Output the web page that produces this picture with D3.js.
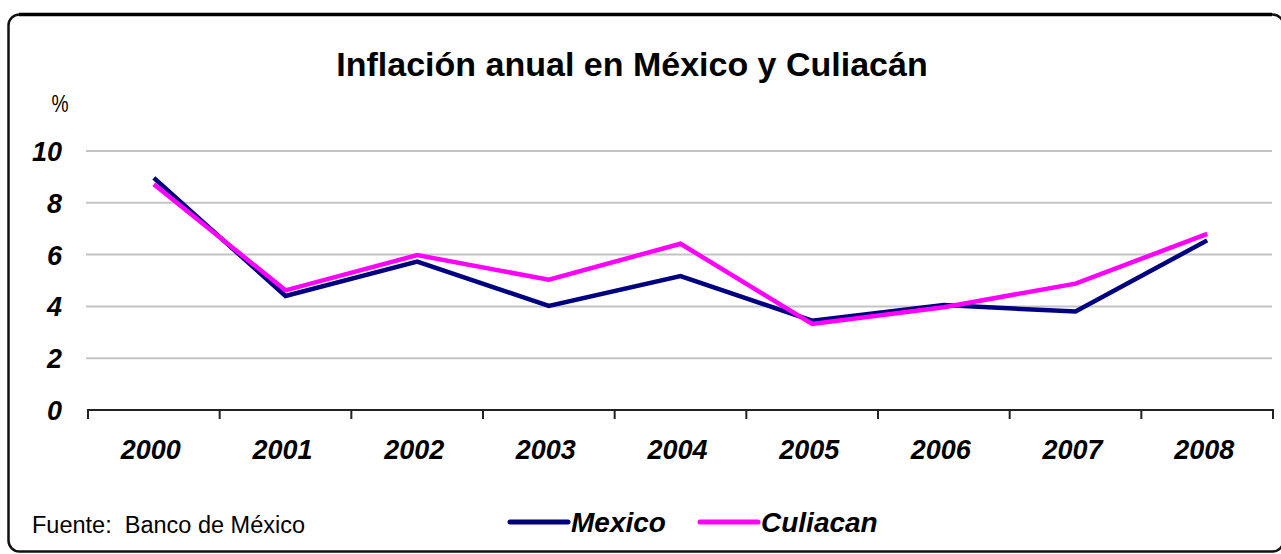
<!DOCTYPE html>
<html>
  <head>
    <script src="https://d3js.org/d3.v7.min.js"></script>
    <meta charset="utf-8">
    <style>
    body {
      margin: 0;
      background: #fff;
    }

    svg text {
      font-family: "Liberation Sans", Arial, sans-serif;
    }

    .tick-label {
      font-size: 27px;
      font-weight: bold;
      font-style: italic;
    }
  </style>
  </head>
  <body>
    <div id="chart"></div>
    <script>
    var years = ['2000', '2001', '2002', '2003', '2004', '2005', '2006', '2007', '2008'];
    var mexico = [8.96, 4.40, 5.73, 4.02, 5.17, 3.45, 4.05, 3.80, 6.55];
    var culiacan = [8.72, 4.62, 5.98, 5.03, 6.42, 3.32, 3.97, 4.88, 6.80];
    var yTicks = [0, 2, 4, 6, 8, 10];

    var width = 1281, height = 554;
    var svg = d3.select('#chart').append('svg')
      .attr('width', width)
      .attr('height', height);

    // rounded outer frame, cut off at right and bottom like the picture
    svg.append('rect')
      .attr('x', 8.5)
      .attr('y', 14.5)
      .attr('width', 1275)
      .attr('height', 537)
      .attr('rx', 11)
      .attr('fill', 'none')
      .attr('stroke', '#111')
      .attr('stroke-width', 2.5);
    // top edge is heavier in the picture
    svg.append('line')
      .attr('x1', 19)
      .attr('x2', 1272)
      .attr('y1', 14.5)
      .attr('y2', 14.5)
      .attr('stroke', '#000')
      .attr('stroke-width', 3.5);

    var x = d3.scalePoint()
      .domain(years)
      .range([88, 1273])
      .padding(0.5);

    var y = d3.scaleLinear()
      .domain([0, 10])
      .range([410, 151]);

    // gridlines
    svg.append('g')
      .selectAll('line')
      .data(yTicks.filter(function (d) { return d > 0; }))
      .enter().append('line')
        .attr('x1', 86)
        .attr('x2', 1272)
        .attr('y1', function (d) { return y(d); })
        .attr('y2', function (d) { return y(d); })
        .attr('stroke', '#c4c4c4')
        .attr('stroke-width', 2);

    // y labels
    svg.append('g')
      .selectAll('text')
      .data(yTicks)
      .enter().append('text')
        .attr('class', 'tick-label')
        .attr('x', 62)
        .attr('y', function (d) { return y(d) + 10; })
        .attr('text-anchor', 'end')
        .text(function (d) { return d; });

    svg.append('text')
      .attr('x', 60)
      .attr('y', 112)
      .attr('text-anchor', 'middle')
      .attr('font-size', 24)
      .attr('transform', 'translate(60,112) scale(0.8,1) translate(-60,-112)')
      .text('%');

    // x axis with ticks between categories
    var step = x.step();
    var bounds = d3.range(years.length + 1).map(function (i) { return 88 + i * step; });
    svg.append('line')
      .attr('x1', 87)
      .attr('x2', 1274)
      .attr('y1', 410)
      .attr('y2', 410)
      .attr('stroke', '#222')
      .attr('stroke-width', 2);
    svg.append('g')
      .selectAll('line')
      .data(bounds)
      .enter().append('line')
        .attr('x1', function (d) { return d; })
        .attr('x2', function (d) { return d; })
        .attr('y1', 410)
        .attr('y2', 419)
        .attr('stroke', '#222')
        .attr('stroke-width', 2);

    svg.append('g')
      .selectAll('text')
      .data(years)
      .enter().append('text')
        .attr('class', 'tick-label')
        .attr('x', function (d) { return x(d) - 3; })
        .attr('y', 459)
        .attr('text-anchor', 'middle')
        .text(function (d) { return d; });

    // series lines
    var line = d3.line()
      .x(function (d, i) { return x(years[i]); })
      .y(function (d) { return y(d); });

    svg.append('path')
      .datum(mexico)
      .attr('d', line)
      .attr('fill', 'none')
      .attr('stroke', '#000080')
      .attr('stroke-width', 4.5);

    svg.append('path')
      .datum(culiacan)
      .attr('d', line)
      .attr('fill', 'none')
      .attr('stroke', '#ff00ff')
      .attr('stroke-width', 4.5);

    // title
    svg.append('text')
      .attr('x', 632)
      .attr('y', 76)
      .attr('text-anchor', 'middle')
      .attr('font-size', 34)
      .attr('font-weight', 'bold')
      .text('Inflación anual en México y Culiacán');

    // source
    svg.append('text')
      .attr('x', 32)
      .attr('y', 533)
      .attr('font-size', 23.5)
      .text('Fuente:\u00a0 Banco de México');

    // legend
    var legend = [
      { name: 'Mexico', color: '#000080', x: 510 },
      { name: 'Culiacan', color: '#ff00ff', x: 700 }
    ];
    var lg = svg.append('g')
      .selectAll('g')
      .data(legend)
      .enter().append('g');
    lg.append('line')
      .attr('x1', function (d) { return d.x; })
      .attr('x2', function (d) { return d.x + 58; })
      .attr('y1', 522)
      .attr('y2', 522)
      .attr('stroke', function (d) { return d.color; })
      .attr('stroke-width', 5)
      .attr('stroke-linecap', 'round');
    lg.append('text')
      .attr('class', 'tick-label')
      .attr('x', function (d) { return d.x + 61; })
      .attr('y', 532)
      .style('font-size', '28px')
      .text(function (d) { return d.name; });
  </script>
  </body>
</html>
